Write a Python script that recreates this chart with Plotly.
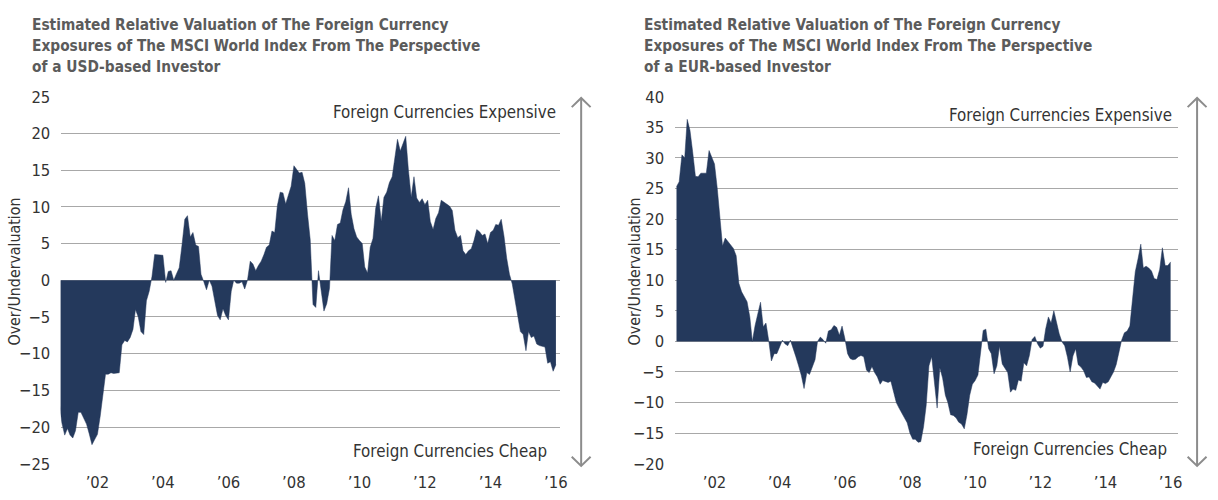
import pandas as pd
import plotly.graph_objects as go

# ---------------- data (monthly, Nov 2000 - Jan 2016) ----------------
months = pd.date_range("2000-11-01", periods=183, freq="MS")

usd_valuation = [
    -16.8, -19.5, -21.1, -20.2, -21.1, -21.5, -20.5, -18.0, -18.0, -18.9,
    -19.6, -20.9, -22.4, -21.7, -21.0, -18.5, -15.5, -12.8, -12.8, -12.6,
    -12.7, -12.6, -12.6, -8.8, -8.2, -8.4, -7.8, -6.7, -4.0, -5.0,
    -7.0, -7.4, -2.8, -1.5, 0.5, 3.5, 3.5, 3.4, 3.4, -0.3,
    1.2, 1.3, 0.0, 0.9, 1.7, 4.8, 8.3, 8.8, 5.9, 6.5,
    4.8, 4.6, 0.8, -0.2, -1.3, 0.0, -0.8, -2.8, -4.8, -5.4,
    -3.9, -4.8, -5.4, -1.5, 0.0, -0.4, -0.4, -0.2, -1.2, 0.0,
    2.6, 2.2, 1.3, 2.0, 2.6, 3.5, 4.5, 4.8, 6.7, 6.5,
    10.2, 12.0, 11.9, 10.4, 11.5, 12.8, 15.6, 15.0, 14.6, 14.7,
    13.2, 9.0, 5.5, -3.3, -3.7, 1.3, -1.5, -4.2, -3.2, -1.1,
    6.1, 5.4, 7.6, 7.8, 9.6, 10.7, 12.6, 9.0, 7.0, 5.9,
    5.4, 5.0, 1.8, 1.0, 4.5, 5.7, 9.8, 11.5, 8.0, 11.3,
    12.0, 13.3, 14.1, 17.0, 19.2, 17.6, 18.5, 19.6, 15.0, 11.3,
    14.1, 11.2, 10.6, 11.1, 10.3, 10.9, 8.0, 6.9, 8.4, 9.2,
    10.9, 10.6, 10.3, 10.1, 9.5, 6.8, 5.8, 6.1, 4.0, 3.5,
    4.0, 4.3, 5.4, 6.9, 6.6, 6.1, 6.3, 5.0, 6.5, 6.8,
    7.6, 7.5, 8.3, 6.0, 3.0, 0.8, -0.5, -2.5, -5.0, -7.0,
    -7.4, -9.6, -7.0, -7.8, -7.6, -8.7, -8.9, -9.0, -9.1, -11.3,
    -11.1, -12.4, -11.5,
]

eur_valuation = [
    25.3, 26.1, 30.5, 30.0, 36.3, 34.5, 31.0, 27.0, 26.9, 27.5,
    27.5, 27.5, 31.2, 30.0, 29.0, 25.0, 20.0, 15.6, 16.9, 16.3,
    15.6, 15.2, 14.0, 9.5, 8.1, 7.4, 6.5, 4.0, 0.0, 2.6,
    4.5, 6.4, 2.4, 3.0, 0.1, -3.2, -2.0, -2.0, -0.9, 0.2,
    -0.4, -0.7, 0.2, -1.0, -2.5, -4.0, -5.6, -7.7, -5.1, -5.4,
    -4.1, -3.0, 0.0, 0.7, 0.3, -0.3, 1.7, 1.9, 2.6, 2.3,
    1.0, 2.5, 0.5, -2.0, -2.8, -3.0, -2.9, -2.5, -2.3, -2.5,
    -4.7, -5.1, -4.1, -5.1, -5.8, -7.0, -6.4, -6.5, -6.7, -6.5,
    -8.5, -10.0, -10.9, -11.7, -12.5, -13.3, -15.0, -16.0, -16.0, -16.5,
    -16.4, -14.0, -10.5, -4.0, -2.5, -7.0, -10.9, -4.3, -6.0, -8.8,
    -10.0, -12.0, -12.1, -12.5, -13.2, -13.5, -14.3, -12.0, -8.8, -7.0,
    -6.4, -5.5, -2.0, 1.8, 2.0, -1.2, -2.0, -5.3, -4.0, -0.8,
    -3.7, -4.3, -5.1, -8.3, -7.8, -8.0, -6.3, -6.5, -3.5, -4.0,
    -2.3, 0.3, 0.8, -0.4, -1.1, -0.8, 2.0, 4.0, 3.0, 5.0,
    2.9, 1.2, -0.1, -0.7, -2.6, -5.0, -2.4, -1.2, -3.8, -4.2,
    -4.8, -5.9, -5.8, -6.6, -6.8, -7.3, -7.8, -6.7, -6.9, -6.6,
    -5.8, -5.0, -3.8, -1.8, 0.2, 1.4, 1.7, 2.5, 7.0, 11.4,
    13.5, 15.9, 12.0, 12.3, 12.0, 11.5, 10.3, 10.1, 11.8, 15.3,
    12.4, 12.4, 13.0,
]

tick_years = ["2002-01-01", "2004-01-01", "2006-01-01", "2008-01-01",
              "2010-01-01", "2012-01-01", "2014-01-01", "2016-01-01"]
tick_labels = ["\u201902", "\u201904", "\u201906", "\u201908",
               "\u201910", "\u201912", "\u201914", "\u201916"]

title_lines_usd = ["Estimated Relative Valuation of The Foreign Currency",
                   "Exposures of The MSCI World Index From The Perspective",
                   "of a USD-based Investor"]
title_lines_eur = ["Estimated Relative Valuation of The Foreign Currency",
                   "Exposures of The MSCI World Index From The Perspective",
                   "of a EUR-based Investor"]

# ---------------- styling ----------------
W, H = 1218, 500
NAVY = "#24395c"
GRID = "#a8a8a8"
TXT = "#333333"
TITLE = "#5b5b5b"
ARROW = "#8c8c8c"
FONT = "DejaVu Sans Condensed, Liberation Sans Narrow, Arial Narrow, sans-serif"


def px(x):
    return x / W


def py(y):
    return 1 - y / H


fig = go.Figure()
fig.add_trace(go.Scatter(x=months, y=usd_valuation, mode="lines", fill="tozeroy",
                         fillcolor=NAVY, line=dict(color=NAVY, width=0.5),
                         xaxis="x", yaxis="y", showlegend=False, hoverinfo="x+y"))
fig.add_trace(go.Scatter(x=months, y=eur_valuation, mode="lines", fill="tozeroy",
                         fillcolor=NAVY, line=dict(color=NAVY, width=0.5),
                         xaxis="x2", yaxis="y2", showlegend=False, hoverinfo="x+y"))

ydom = [py(472.7), py(91.2)]
xcommon = dict(type="date", tickvals=tick_years, ticktext=tick_labels, showgrid=False,
               zeroline=False, showline=False, ticks="outside", ticklen=3,
               tickcolor="rgba(0,0,0,0)",
               tickfont=dict(family=FONT, size=16.5, color=TXT))
ycommon = dict(dtick=5, showgrid=True, gridcolor=GRID, gridwidth=1.4, zeroline=False,
               showline=False, ticks="outside", ticklen=6, tickcolor="rgba(0,0,0,0)",
               tickfont=dict(family=FONT, size=16.5, color=TXT))

fig.update_layout(
    width=W, height=H, margin=dict(l=0, r=0, t=0, b=0),
    paper_bgcolor="white", plot_bgcolor="white",
    xaxis=dict(domain=[px(61), px(563.3)], range=["2000-11-16", "2016-02-11"],
               anchor="y", **xcommon),
    yaxis=dict(domain=ydom, range=[-25, 25], anchor="x", tick0=-25, **ycommon),
    xaxis2=dict(domain=[px(679), px(1185.7)], range=["2000-10-10", "2016-03-23"],
                anchor="y2", **xcommon),
    yaxis2=dict(domain=ydom, range=[-20, 40], anchor="x2", tick0=-20, **ycommon),
)

ann = []
for lines, x0 in ((title_lines_usd, 30), (title_lines_eur, 646)):
    for k, line in enumerate(lines):
        ann.append(dict(text="<b>" + line + "</b>", x=px(x0), y=py(17 + 21.5 * k),
                        xref="paper", yref="paper", xanchor="left", yanchor="middle",
                        showarrow=False, font=dict(family=FONT, size=15.3, color=TITLE)))

for x0 in (15, 639):
    ann.append(dict(text="Over/Undervaluation", x=px(x0), y=py(273), xref="paper",
                    yref="paper", xanchor="center", yanchor="middle", textangle=-90,
                    showarrow=False, font=dict(family=FONT, size=15.8, color=TXT)))

for text, x1, y1 in (("Foreign Currencies Expensive", 562, 107),
                     ("Foreign Currencies Cheap", 553, 459),
                     ("Foreign Currencies Expensive", 1182, 110),
                     ("Foreign Currencies Cheap", 1177, 457)):
    ann.append(dict(text=text, x=px(x1), y=py(y1), xref="paper", yref="paper",
                    xanchor="right", yanchor="middle", showarrow=False,
                    font=dict(family=FONT, size=16.8, color=TXT)))
fig.update_layout(annotations=ann)

shapes = []
for ax in (585, 1205):
    top, bot, a = 92.5, 475, 9.5
    shapes.append(dict(type="line", xref="paper", yref="paper",
                       x0=px(ax), x1=px(ax), y0=py(top + 1), y1=py(bot - 1),
                       line=dict(color=ARROW, width=2)))
    shapes.append(dict(type="path", xref="paper", yref="paper",
                       path=f"M {px(ax - a)},{py(top + a)} L {px(ax)},{py(top)} L {px(ax + a)},{py(top + a)}",
                       line=dict(color=ARROW, width=2)))
    shapes.append(dict(type="path", xref="paper", yref="paper",
                       path=f"M {px(ax - a)},{py(bot - a)} L {px(ax)},{py(bot)} L {px(ax + a)},{py(bot - a)}",
                       line=dict(color=ARROW, width=2)))
fig.update_layout(shapes=shapes)

fig.write_html("out.html", config={"displayModeBar": False},
               post_script="document.body.style.margin='0';document.body.style.overflow='hidden';")
